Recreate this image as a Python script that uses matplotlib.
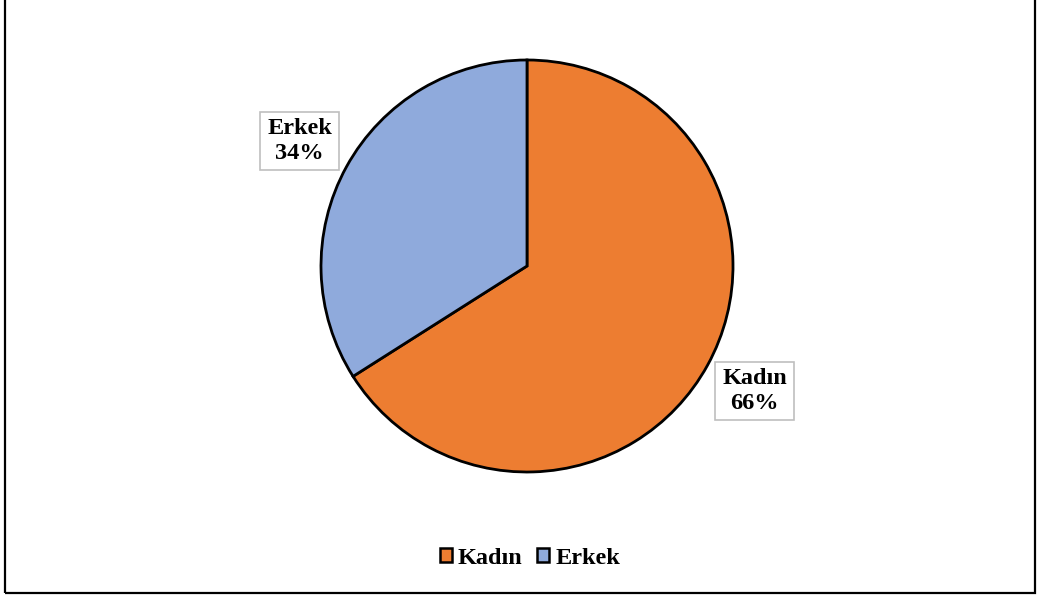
import matplotlib.pyplot as plt
from matplotlib.patches import Patch, Rectangle

plt.rcParams["font.family"] = ["Liberation Serif", "DejaVu Serif"]

# data
categories = ["Kadın", "Erkek"]
shares = [66, 34]
colors = ["#ED7D31", "#8FAADC"]

W, H = 1040, 596
fig = plt.figure(figsize=(W / 100, H / 100), dpi=100)

# outer chart border (top edge falls outside the image)
fig.patches.append(Rectangle((5 / W, 3 / H), 1030 / W, 1.0,
                             transform=fig.transFigure, fill=False,
                             edgecolor="black", linewidth=1.6))

# pie axes: centre (527, 266) px, radius 206 px
cx, cy, r = 527, 266, 206
ax = fig.add_axes([(cx - r) / W, (H - cy - r) / H, 2 * r / W, 2 * r / H])
labels = ["{}\n{}%".format(c, s) for c, s in zip(categories, shares)]
wedges, texts = ax.pie(shares, colors=colors, startangle=90, counterclock=False,
                       labels=labels, labeldistance=1.26,
                       wedgeprops=dict(edgecolor="black", linewidth=2))
for t in texts:
    t.set_ha("center")
    t.set_va("center")
    t.set_fontsize(17.5)
    t.set_fontweight("bold")
    t.set_linespacing(1.2)
    t.set_bbox(dict(boxstyle="square,pad=0.28", facecolor="white",
                    edgecolor="#BFBFBF", linewidth=1.2))
ax.set_xlim(-1, 1)
ax.set_ylim(-1, 1)
ax.set_aspect("equal")

handles = [Patch(facecolor=c, edgecolor="black", linewidth=1.8) for c in colors]
fig.legend(handles, categories, loc="center", bbox_to_anchor=(530 / W, 1 - 558 / H),
           ncol=2, frameon=False, handlelength=0.5, handleheight=0.5,
           handletextpad=0.25, columnspacing=0.6,
           prop=dict(size=17.5, weight="bold"))

fig.savefig("out.png", dpi=100)
